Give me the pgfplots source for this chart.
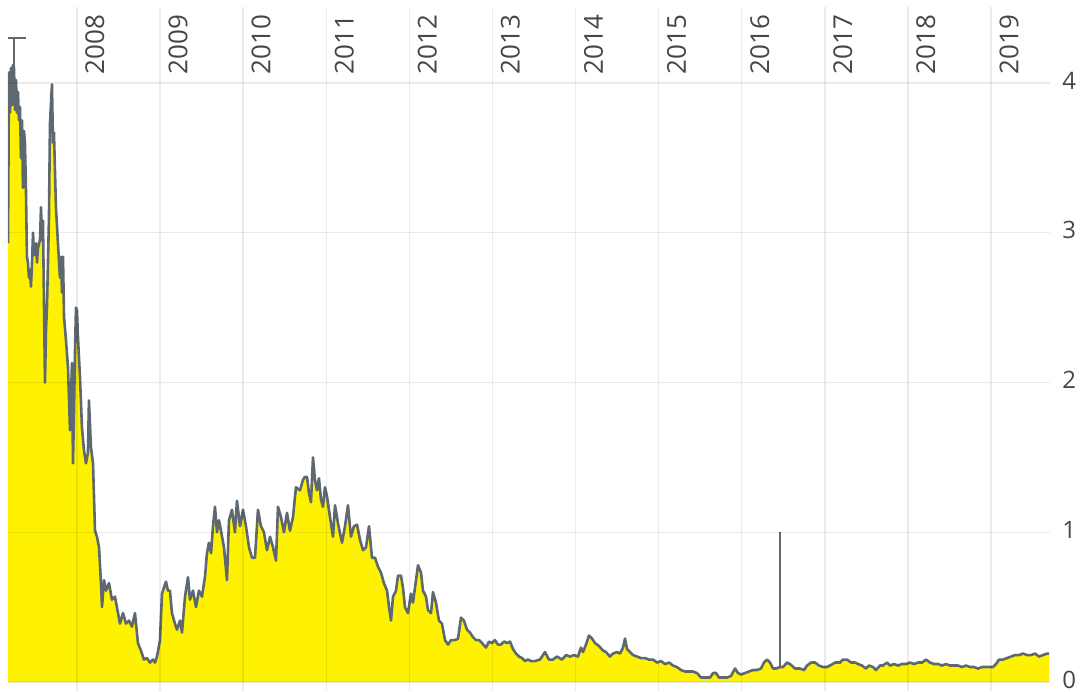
\documentclass[border=0pt]{standalone}
\usepackage{fontspec}
\setmainfont{Open Sans}
\usepackage{pgfplots}
\usepackage{pgfplotstable}
\pgfplotsset{compat=1.18}
\definecolor{fillyellow}{RGB}{255,242,0}
\definecolor{linegray}{RGB}{94,104,112}
\definecolor{labelgray}{RGB}{70,70,70}

% price series (year, value)
\pgfplotstableread{
x y
2007.170 2.93
2007.182 4.07
2007.194 3.80
2007.206 4.10
2007.218 3.85
2007.230 4.12
2007.242 4.10
2007.254 3.82
2007.266 4.02
2007.278 3.80
2007.290 3.94
2007.302 3.75
2007.314 3.84
2007.326 3.50
2007.338 3.75
2007.350 3.30
2007.362 3.68
2007.374 3.60
2007.386 3.29
2007.398 2.84
2007.410 2.80
2007.422 2.70
2007.434 2.75
2007.446 2.64
2007.459 2.80
2007.471 3.00
2007.483 2.85
2007.507 2.93
2007.519 2.80
2007.531 2.90
2007.555 2.95
2007.567 3.17
2007.579 2.95
2007.591 3.08
2007.603 2.53
2007.615 2.00
2007.627 2.35
2007.639 2.50
2007.663 3.10
2007.675 3.73
2007.699 3.99
2007.711 3.60
2007.723 3.67
2007.747 3.17
2007.771 2.93
2007.795 2.70
2007.807 2.84
2007.820 2.60
2007.832 2.84
2007.844 2.44
2007.868 2.28
2007.892 2.10
2007.916 1.68
2007.940 2.13
2007.952 1.46
2007.964 1.80
2007.976 2.20
2007.988 2.50
2008.000 2.48
2008.012 2.30
2008.036 2.04
2008.060 1.70
2008.084 1.55
2008.108 1.46
2008.132 1.53
2008.144 1.88
2008.168 1.57
2008.193 1.46
2008.217 1.01
2008.241 0.97
2008.265 0.90
2008.289 0.66
2008.301 0.50
2008.325 0.68
2008.349 0.61
2008.385 0.66
2008.421 0.55
2008.457 0.57
2008.481 0.50
2008.517 0.39
2008.554 0.46
2008.590 0.39
2008.626 0.41
2008.662 0.37
2008.698 0.46
2008.734 0.26
2008.770 0.21
2008.806 0.15
2008.842 0.16
2008.878 0.13
2008.915 0.15
2008.939 0.13
2008.963 0.17
2008.999 0.28
2009.023 0.59
2009.047 0.63
2009.071 0.67
2009.095 0.61
2009.119 0.61
2009.143 0.46
2009.179 0.39
2009.203 0.35
2009.240 0.41
2009.264 0.33
2009.300 0.57
2009.336 0.70
2009.360 0.55
2009.396 0.61
2009.432 0.50
2009.468 0.61
2009.504 0.57
2009.540 0.70
2009.564 0.86
2009.588 0.93
2009.613 0.86
2009.637 1.04
2009.661 1.17
2009.685 1.00
2009.709 1.08
2009.733 1.01
2009.769 0.90
2009.805 0.68
2009.829 1.08
2009.865 1.15
2009.901 1.00
2009.925 1.21
2009.962 1.04
2009.998 1.15
2010.034 1.04
2010.070 0.90
2010.106 0.83
2010.142 0.83
2010.178 1.15
2010.214 1.04
2010.250 1.00
2010.286 0.88
2010.323 0.97
2010.359 0.90
2010.395 0.81
2010.419 1.17
2010.455 1.10
2010.491 1.00
2010.527 1.13
2010.563 1.01
2010.599 1.10
2010.635 1.30
2010.684 1.28
2010.720 1.35
2010.744 1.37
2010.768 1.37
2010.792 1.26
2010.816 1.20
2010.840 1.50
2010.864 1.35
2010.888 1.28
2010.912 1.36
2010.936 1.22
2010.960 1.17
2010.984 1.30
2011.009 1.24
2011.045 1.10
2011.081 0.97
2011.105 1.18
2011.141 1.06
2011.189 0.93
2011.225 1.04
2011.261 1.18
2011.297 0.97
2011.333 1.04
2011.370 1.05
2011.406 0.95
2011.442 0.88
2011.478 0.90
2011.514 1.04
2011.550 0.83
2011.586 0.83
2011.622 0.77
2011.658 0.73
2011.694 0.66
2011.731 0.61
2011.755 0.50
2011.779 0.41
2011.803 0.57
2011.839 0.61
2011.863 0.71
2011.899 0.71
2011.923 0.63
2011.947 0.50
2011.983 0.46
2012.019 0.59
2012.043 0.53
2012.080 0.68
2012.104 0.78
2012.140 0.73
2012.164 0.61
2012.200 0.57
2012.224 0.48
2012.260 0.46
2012.284 0.60
2012.320 0.53
2012.356 0.41
2012.392 0.39
2012.429 0.28
2012.465 0.25
2012.501 0.28
2012.549 0.28
2012.585 0.29
2012.621 0.43
2012.657 0.41
2012.693 0.35
2012.729 0.33
2012.765 0.30
2012.802 0.28
2012.838 0.28
2012.874 0.26
2012.922 0.23
2012.958 0.27
2012.994 0.26
2013.030 0.28
2013.066 0.25
2013.102 0.25
2013.139 0.27
2013.175 0.26
2013.211 0.27
2013.247 0.22
2013.283 0.19
2013.319 0.17
2013.355 0.16
2013.391 0.14
2013.427 0.15
2013.463 0.14
2013.512 0.14
2013.572 0.15
2013.632 0.20
2013.680 0.15
2013.728 0.15
2013.776 0.17
2013.837 0.15
2013.885 0.18
2013.933 0.17
2013.981 0.18
2014.029 0.17
2014.065 0.23
2014.089 0.20
2014.125 0.25
2014.161 0.31
2014.198 0.29
2014.234 0.26
2014.282 0.24
2014.330 0.21
2014.366 0.20
2014.414 0.17
2014.450 0.19
2014.498 0.20
2014.535 0.19
2014.571 0.23
2014.595 0.29
2014.619 0.22
2014.655 0.20
2014.691 0.18
2014.739 0.17
2014.787 0.16
2014.835 0.16
2014.883 0.15
2014.932 0.15
2014.980 0.13
2015.028 0.14
2015.076 0.12
2015.124 0.13
2015.172 0.11
2015.220 0.10
2015.269 0.08
2015.317 0.07
2015.365 0.07
2015.413 0.07
2015.461 0.06
2015.509 0.03
2015.569 0.03
2015.618 0.03
2015.654 0.06
2015.690 0.06
2015.726 0.03
2015.774 0.03
2015.822 0.03
2015.870 0.04
2015.918 0.09
2015.954 0.06
2015.991 0.05
2016.039 0.06
2016.087 0.07
2016.135 0.08
2016.183 0.08
2016.231 0.09
2016.267 0.13
2016.303 0.15
2016.340 0.13
2016.376 0.09
2016.412 0.09
2016.460 0.10
2016.496 0.10
2016.544 0.13
2016.580 0.12
2016.640 0.09
2016.701 0.09
2016.749 0.08
2016.785 0.11
2016.833 0.13
2016.881 0.13
2016.929 0.11
2016.977 0.10
2017.026 0.10
2017.062 0.11
2017.122 0.13
2017.182 0.13
2017.218 0.15
2017.266 0.15
2017.315 0.13
2017.363 0.13
2017.399 0.12
2017.447 0.11
2017.495 0.09
2017.531 0.11
2017.579 0.10
2017.615 0.08
2017.663 0.11
2017.699 0.11
2017.748 0.13
2017.784 0.11
2017.832 0.12
2017.880 0.11
2017.928 0.12
2017.976 0.12
2018.024 0.13
2018.072 0.12
2018.121 0.13
2018.169 0.13
2018.217 0.15
2018.265 0.13
2018.313 0.12
2018.361 0.12
2018.409 0.11
2018.457 0.12
2018.506 0.11
2018.554 0.11
2018.602 0.11
2018.650 0.10
2018.698 0.11
2018.746 0.10
2018.794 0.10
2018.843 0.09
2018.891 0.10
2018.939 0.10
2018.987 0.10
2019.023 0.10
2019.059 0.12
2019.095 0.15
2019.143 0.15
2019.192 0.16
2019.240 0.17
2019.288 0.18
2019.336 0.18
2019.384 0.19
2019.432 0.18
2019.480 0.18
2019.529 0.19
2019.577 0.17
2019.625 0.18
2019.673 0.19
2019.697 0.19
}\pricedata

\begin{document}
\begin{tikzpicture}[x=1pt,y=1pt]
\path[use as bounding box] (0,0) rectangle (540,345.5);
\begin{axis}[
  at={(4pt,0pt)}, anchor=south west,
  scale only axis, width=521pt, height=342pt,
  xmin=2007.170, xmax=2019.709,
  ymin=-0.060, ymax=4.507,
  axis line style={draw=none},
  major tick length=0pt,
  xtick={2008,2009,2010,2011,2012,2013,2014,2015,2016,2017,2018,2019},
  ytick={0,1,2,3,4},
  xmajorgrids, ymajorgrids,
  grid style={black, opacity=0.08, line width=0.7pt},
  axis on top,
  xticklabel pos=upper,
  yticklabel pos=right,
  /pgf/number format/1000 sep={},
  /pgf/number format/assume math mode=true,
  xticklabel style={font=\fontsize{13}{13}\selectfont, text=labelgray,
    inner sep=0pt, xshift=4pt, yshift=-34pt, rotate=90, anchor=north west},
  yticklabel style={font=\fontsize{12}{12}\selectfont, text=labelgray,
    inner sep=0pt, anchor=west, xshift=6pt, yshift=1.2pt},
]
\addplot[draw=none, fill=fillyellow] table {\pricedata} \closedcycle;
\addplot[linegray, line width=1.3pt, line join=round] table {\pricedata};
\addplot[linegray, line width=0.7pt] coordinates {(2016.460,0.10) (2016.460,1.00)};
\addplot[linegray, line width=0.7pt] coordinates {(2007.242,4.10) (2007.242,4.30)};
\addplot[linegray, line width=0.7pt] coordinates {(2007.170,4.30) (2007.386,4.30)};
\end{axis}
\end{tikzpicture}
\end{document}
